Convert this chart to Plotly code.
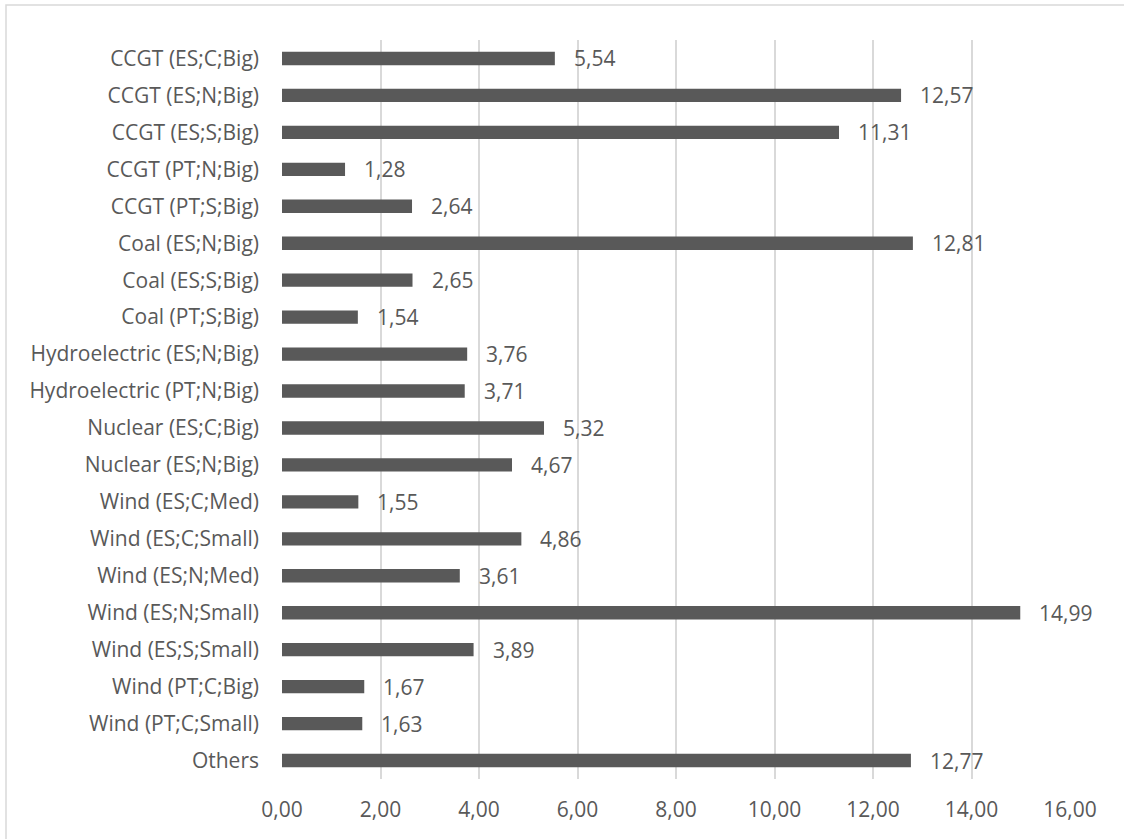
import plotly.graph_objects as go

categories = [
    "CCGT (ES;C;Big)", "CCGT (ES;N;Big)", "CCGT (ES;S;Big)", "CCGT (PT;N;Big)",
    "CCGT (PT;S;Big)", "Coal (ES;N;Big)", "Coal (ES;S;Big)", "Coal (PT;S;Big)",
    "Hydroelectric (ES;N;Big)", "Hydroelectric (PT;N;Big)", "Nuclear (ES;C;Big)",
    "Nuclear (ES;N;Big)", "Wind (ES;C;Med)", "Wind (ES;C;Small)", "Wind (ES;N;Med)",
    "Wind (ES;N;Small)", "Wind (ES;S;Small)", "Wind (PT;C;Big)", "Wind (PT;C;Small)",
    "Others",
]
values = [5.54, 12.57, 11.31, 1.28, 2.64, 12.81, 2.65, 1.54, 3.76, 3.71,
          5.32, 4.67, 1.55, 4.86, 3.61, 14.99, 3.89, 1.67, 1.63, 12.77]
x_ticks = [0, 2, 4, 6, 8, 10, 12, 14, 16]

W, H = 1124, 839
L, R, T, B = 282, 54, 40, 60
FONT = "Open Sans, Lato, sans-serif"
TXT = "#595959"
FS = 21

labels = [f"{v:.2f}".replace(".", ",") for v in values]

fig = go.Figure(go.Bar(
    x=values, y=categories, orientation="h",
    marker=dict(color="#595959", line=dict(width=0)),
    width=0.36,
))

for c, v, s in zip(categories, values, labels):
    fig.add_annotation(x=v, y=c, text=s, showarrow=False, xanchor="left",
                       xshift=17, font=dict(family=FONT, size=FS, color=TXT))

# light frame around the chart (top and left edges visible)
pw, ph = W - L - R, H - T - B
fig.add_shape(type="rect", xref="paper", yref="paper",
              x0=(6 - L) / pw, x1=(W + 10 - L) / pw,
              y0=(H - B - (H + 10)) / ph, y1=(H - B - 5) / ph,
              line=dict(color="#d9d9d9", width=1.5), fillcolor="rgba(0,0,0,0)")

fig.update_layout(
    width=W, height=H,
    margin=dict(l=L, r=R, t=T, b=B),
    paper_bgcolor="white", plot_bgcolor="white",
    separators=",.",
    showlegend=False,
    font=dict(family=FONT, size=FS, color=TXT),
    xaxis=dict(range=[0, 16], tickvals=x_ticks, tickformat=".2f",
               showgrid=True, gridcolor="#d9d9d9", gridwidth=1.5,
               zeroline=False, showline=False, ticks="",
               ticklabelstandoff=16, fixedrange=True),
    yaxis=dict(categoryorder="array", categoryarray=categories,
               autorange="reversed", showgrid=False, zeroline=False,
               showline=False, ticks="", ticklabelstandoff=22,
               fixedrange=True),
)

fig.write_html("out.html")
